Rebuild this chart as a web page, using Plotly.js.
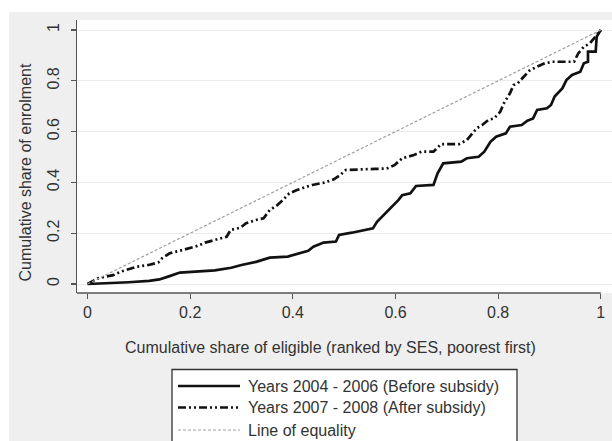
<!DOCTYPE html>
<html><head><meta charset="utf-8">
<script src="https://cdn.plot.ly/plotly-3.0.1.min.js"></script>
<style>
html,body{margin:0;padding:0;background:#fff;width:612px;height:441px;overflow:hidden}
#chart{position:absolute;left:9px;top:12px;width:603px;height:429px}
</style>
</head><body><div id="chart"></div>
<script>
// Before subsidy (Years 2004 - 2006)
const beforeX = [0,0.058,0.08,0.12,0.14,0.157,0.18,0.21,0.248,0.28,0.30,0.33,0.355,0.39,0.41,0.43,0.44,0.46,0.484,0.49,0.515,0.541,0.556,0.564,0.58,0.594,0.606,0.613,0.629,0.64,0.674,0.682,0.693,0.728,0.739,0.762,0.773,0.785,0.796,0.815,0.823,0.846,0.857,0.868,0.876,0.895,0.903,0.91,0.925,0.933,0.944,0.96,0.967,0.975,0.975,0.99,0.992,1];
const beforeY = [0,0.003,0.007,0.012,0.018,0.029,0.045,0.049,0.054,0.064,0.075,0.088,0.104,0.108,0.118,0.131,0.147,0.163,0.167,0.193,0.202,0.213,0.219,0.245,0.278,0.304,0.331,0.350,0.357,0.386,0.39,0.436,0.475,0.482,0.495,0.501,0.521,0.56,0.58,0.593,0.619,0.626,0.643,0.652,0.685,0.692,0.705,0.738,0.77,0.803,0.823,0.836,0.869,0.875,0.915,0.915,0.974,1];
// After subsidy (Years 2007 - 2008)
const afterX = [0,0.02,0.035,0.05,0.065,0.08,0.096,0.119,0.138,0.145,0.16,0.18,0.195,0.214,0.229,0.252,0.271,0.279,0.298,0.309,0.328,0.343,0.355,0.37,0.381,0.393,0.408,0.427,0.438,0.461,0.48,0.492,0.503,0.56,0.583,0.598,0.613,0.636,0.651,0.674,0.689,0.724,0.739,0.75,0.758,0.769,0.781,0.792,0.804,0.811,0.823,0.83,0.838,0.849,0.861,0.876,0.891,0.906,0.948,0.956,0.967,0.979,0.99,1];
const afterY = [0,0.022,0.029,0.035,0.049,0.058,0.068,0.075,0.085,0.101,0.121,0.131,0.14,0.15,0.163,0.176,0.186,0.213,0.222,0.239,0.252,0.259,0.291,0.311,0.331,0.357,0.37,0.383,0.39,0.399,0.412,0.429,0.449,0.453,0.455,0.468,0.495,0.508,0.521,0.521,0.551,0.551,0.567,0.593,0.613,0.626,0.646,0.652,0.678,0.711,0.751,0.783,0.79,0.814,0.84,0.856,0.869,0.875,0.875,0.908,0.934,0.948,0.974,1];
// Line of equality
const equalX = [0,1];
const equalY = [0,1];
const tickVals = [0,0.2,0.4,0.6,0.8,1];
const tickText = ["0","0.2","0.4","0.6","0.8","1"];
const legendLabels = ["Years 2004 - 2006 (Before subsidy)","Years 2007 - 2008 (After subsidy)","Line of equality"];
const xTitle = "Cumulative share of eligible (ranked by SES, poorest first)";
const yTitle = "Cumulative share of enrolment";

const FONT = "Liberation Sans, Arial, sans-serif";
const TXT = "#333333";
const DIV_L=9, DIV_T=12, W=603, H=429, ML=68, MR=0, MT=8, MB=148;
const plotW = W-ML-MR, plotH = H-MT-MB;
const px = xp => (xp - DIV_L - ML)/plotW;
const py = yp => (H - MB - (yp - DIV_T))/plotH;

const styles = [
  {color:"#111111", width:2.7, dash:"solid"},
  {color:"#111111", width:2.7, dash:"8px,3px,2px,3px,2px,3px"},
  {color:"#a0a0a0", width:1.2, dash:"3px,2px"}
];

const traces = [
  {x:beforeX, y:beforeY, type:"scatter", mode:"lines", line:styles[0], name:legendLabels[0], showlegend:false, hoverinfo:"skip"},
  {x:afterX, y:afterY, type:"scatter", mode:"lines", line:styles[1], name:legendLabels[1], showlegend:false, hoverinfo:"skip"},
  {x:equalX, y:equalY, type:"scatter", mode:"lines", line:styles[2], name:legendLabels[2], showlegend:false, hoverinfo:"skip"}
];

const rowsY = [386, 407.5, 430];
const shapes = [
  {type:"line", xref:"x", yref:"paper", x0:-0.0205, x1:1, y0:0, y1:0, line:{color:"#555555", width:1.4}, layer:"above"},
  {type:"rect", xref:"paper", yref:"paper", x0:px(172), x1:px(517), y0:py(369.5), y1:py(460), fillcolor:"#ffffff", line:{color:"#333333", width:1.3}}
];
const annotations = [
  {xref:"paper", yref:"paper", x:px(330), y:py(347), xanchor:"center", yanchor:"middle", text:xTitle, showarrow:false, font:{family:FONT, size:16, color:TXT}},
  {xref:"paper", yref:"paper", x:px(25), y:py(172.5), xanchor:"center", yanchor:"middle", textangle:-90, text:yTitle, showarrow:false, font:{family:FONT, size:16, color:TXT}}
];
legendLabels.forEach((lab,i)=>{
  shapes.push({type:"line", xref:"paper", yref:"paper", x0:px(178), x1:px(240), y0:py(rowsY[i]), y1:py(rowsY[i]), line:styles[i]});
  annotations.push({xref:"paper", yref:"paper", x:px(246), y:py(rowsY[i]), xanchor:"left", yanchor:"middle", text:lab, showarrow:false, font:{family:FONT, size:16, color:TXT}});
});

const layout = {
  width:W, height:H,
  margin:{l:ML, r:MR, t:MT, b:MB, pad:0},
  paper_bgcolor:"#efefef", plot_bgcolor:"#ffffff",
  showlegend:false,
  font:{family:FONT, size:16, color:TXT},
  xaxis:{range:[-0.0205,1.0218], tickvals:tickVals, ticktext:tickText, showgrid:false, zeroline:false,
    showline:false, ticks:"outside", ticklen:5, tickwidth:1.3, tickcolor:"#555555",
    tickfont:{family:FONT, size:16, color:TXT}},
  yaxis:{range:[-0.0354,1.0394], tickvals:tickVals, ticktext:tickText, showgrid:true, gridcolor:"#ececec", gridwidth:1,
    zeroline:false, showline:true, linecolor:"#555555", linewidth:1.4, ticks:"outside", ticklen:5, tickwidth:1.3, tickcolor:"#555555",
    tickangle:-90, ticklabelstandoff:5, tickfont:{family:FONT, size:16, color:TXT}},
  shapes:shapes, annotations:annotations
};
Plotly.newPlot("chart", traces, layout, {staticPlot:true, displayModeBar:false});
</script>
</body></html>
